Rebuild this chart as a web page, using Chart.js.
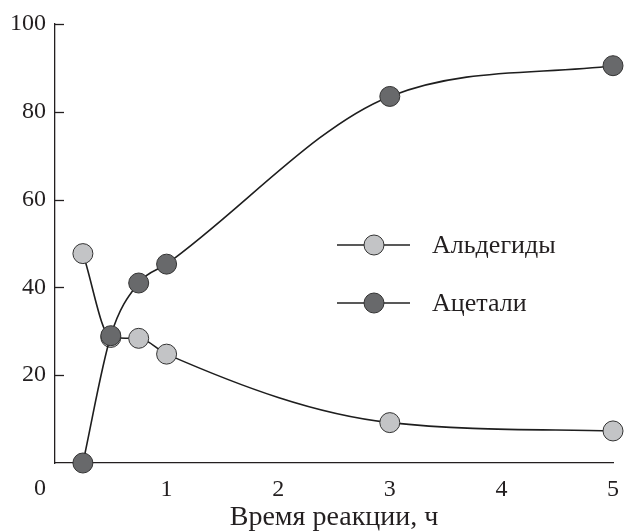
<!DOCTYPE html>
<html>
<head>
<meta charset="utf-8">
<script src="https://cdn.jsdelivr.net/npm/chart.js@4/dist/chart.umd.min.js"></script>
<style>
  html, body { margin: 0; padding: 0; background: #fff; }
  #wrap { width: 625px; height: 532px; position: relative; }
</style>
</head>
<body>
<div id="wrap"><canvas id="grafico"></canvas></div>
<script>
// Dados
const tempoAld = [0.25, 0.5, 0.75, 1, 3, 5];
const valAld = [47.7, 28.6, 28.4, 24.8, 9.2, 7.3];
const tempoAcet = [0.25, 0.5, 0.75, 1, 3, 5];
const valAcet = [0, 29, 41, 45.3, 83.5, 90.5];
const nomes = ['Альдегиды', 'Ацетали'];
const ticksY = [20, 40, 60, 80, 100];
const tituloX = 'Время реакции, ч';

const FONTE = '"Liberation Serif", "DejaVu Serif", serif';
const COR_TXT = '#231f20';
const corClara = '#c3c4c6';
const corEscura = '#68696b';

const pares = (xs, ys) => xs.map((x, i) => ({ x, y: ys[i] }));

// Legenda + ticks internos + "0" do canto
const extras = {
  id: 'extras',
  afterDraw(chart) {
    const c = chart.ctx, ys = chart.scales.y, xs = chart.scales.x;
    c.save();
    c.strokeStyle = COR_TXT; c.lineWidth = 1.3;
    ticksY.forEach(v => {
      const py = Math.round(ys.getPixelForValue(v)) + 0.5;
      c.beginPath(); c.moveTo(xs.left, py); c.lineTo(xs.left + 9, py); c.stroke();
    });
    c.font = '24px ' + FONTE; c.fillStyle = COR_TXT;
    c.textAlign = 'center'; c.textBaseline = 'middle';
    c.fillText('0', xs.left - 15, 489);
    const cores = [corClara, corEscura];
    c.font = '26px ' + FONTE;
    nomes.forEach((n, i) => {
      const ly = 245 + i * 58;
      c.strokeStyle = '#222'; c.lineWidth = 1.6;
      c.beginPath(); c.moveTo(337, ly); c.lineTo(410, ly); c.stroke();
      c.beginPath(); c.arc(374, ly, 10, 0, Math.PI * 2);
      c.fillStyle = cores[i]; c.fill();
      c.lineWidth = 1; c.strokeStyle = '#333'; c.stroke();
      c.fillStyle = COR_TXT; c.textAlign = 'left';
      c.fillText(n, 432, ly + 1);
    });
    c.restore();
  }
};

const serie = (label, dados, cor, ordem) => ({
  label, data: dados, order: ordem, clip: false,
  borderColor: '#1e1e1e', borderWidth: 1.6,
  backgroundColor: cor, pointBackgroundColor: cor,
  pointBorderColor: '#333', pointBorderWidth: 1, pointRadius: 10,
  cubicInterpolationMode: 'monotone', fill: false
});

new Chart(document.getElementById('grafico'), {
  type: 'line',
  data: {
    datasets: [
      serie(nomes[0], pares(tempoAld, valAld), corClara, 1),
      serie(nomes[1], pares(tempoAcet, valAcet), corEscura, 0)
    ]
  },
  options: {
    responsive: true, maintainAspectRatio: false, animation: false,
    layout: { padding: { top: 24, right: 12, left: 0, bottom: 0 } },
    plugins: { legend: { display: false }, tooltip: { enabled: false } },
    scales: {
      x: {
        type: 'linear', min: 0, max: 5,
        afterFit: s => { s.height = 69; s.paddingLeft = 0; s.paddingRight = 0; },
        grid: { display: false, drawTicks: false },
        border: { color: COR_TXT, width: 1.3 },
        ticks: { stepSize: 1, padding: 12, color: COR_TXT, font: { family: FONTE, size: 24 },
          callback: v => v === 0 ? '' : v },
        title: { display: true, text: tituloX, color: COR_TXT,
          font: { family: FONTE, size: 28, lineHeight: 1.0 },
          padding: { top: 0, bottom: 0 } }
      },
      y: {
        min: 0, max: 100,
        afterFit: s => { s.width = 55; s.paddingTop = 0; s.paddingBottom = 0; },
        afterBuildTicks: s => { s.ticks = ticksY.map(v => ({ value: v })); },
        grid: { display: false, drawTicks: false },
        border: { color: COR_TXT, width: 1.3 },
        ticks: { padding: 9, color: COR_TXT, font: { family: FONTE, size: 24 } }
      }
    }
  },
  plugins: [extras]
});
</script>
</body>
</html>
